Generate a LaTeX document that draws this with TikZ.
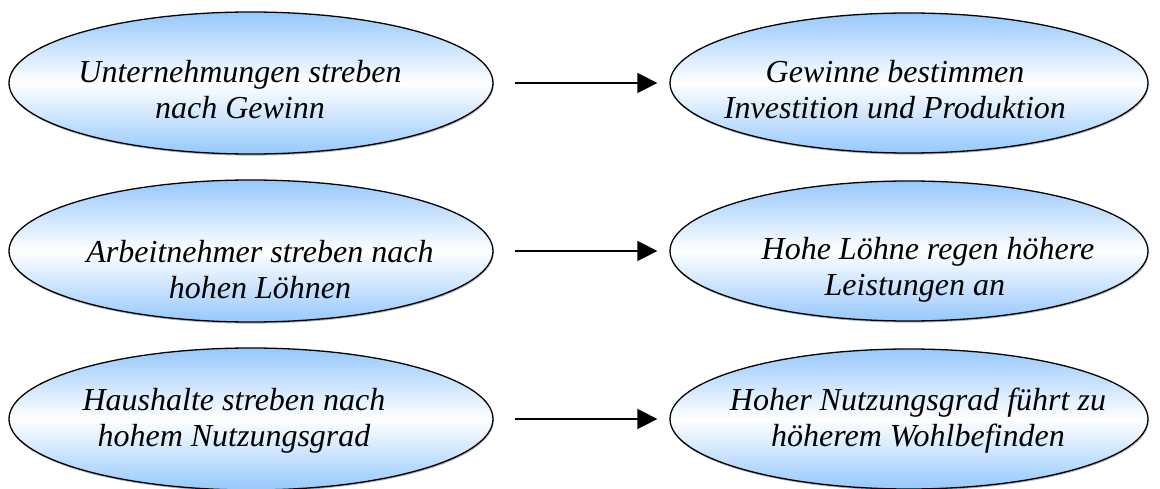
\documentclass[tikz,border=0pt]{standalone}
\usepackage{fontspec}
\setmainfont{Liberation Serif}
\usetikzlibrary{shapes.geometric,arrows.meta,shadows}
\definecolor{capblue}{RGB}{150,200,252}
\tikzset{
  bubble/.style={ellipse, draw=black, line width=1.3pt,
    minimum width=484pt, minimum height=142pt, inner sep=0pt,
    top color=capblue, bottom color=capblue, middle color=white,
    drop shadow={shadow xshift=0.6pt, shadow yshift=-1.6pt, opacity=0.3, fill=black}},
  rbubble/.style={bubble, minimum width=478pt, minimum height=140pt},
  caption/.style={font=\rmfamily\itshape\fontsize{32}{36}\selectfont, align=center, inner sep=0pt},
  flow/.style={line width=1.6pt, -{Triangle[length=20pt,width=20pt]},
    shorten <=21pt, shorten >=12pt}
}
\begin{document}
\begin{tikzpicture}[x=1pt,y=-1pt]
\useasboundingbox (0,0) rectangle (1160,489);
% left column: the actors
\node[bubble] (u) at (251,83) {};
\node[bubble] (a) at (251,251) {};
\node[bubble] (h) at (251,419) {};
% right column: the consequences
\node[rbubble] (g) at (909,83) {};
\node[rbubble] (l) at (909,251) {};
\node[rbubble] (w) at (909,419) {};
% captions
\node[caption] (ut) at (240,90) {Unternehmungen streben\\nach Gewinn};
\node[caption] (at) at (260,270) {Arbeitnehmer streben nach\\hohen Löhnen};
\node[caption] (ht) at (234,421) {Haushalte streben nach\\hohem Nutzungsgrad};
\node[caption] (gt) at (895,90) {Gewinne bestimmen\\Investition und Produktion};
\node[caption, align=left] (lt) at (928,270) {Hohe Löhne regen höhere\\\hspace*{63pt}Leistungen an};
\node[caption] (wt) at (918,421) {Hoher Nutzungsgrad führt zu\\höherem Wohlbefinden};
% arrows
\draw[flow] (u.east) -- (g.west);
\draw[flow] (a.east) -- (l.west);
\draw[flow] (h.east) -- (w.west);
\end{tikzpicture}
\end{document}
